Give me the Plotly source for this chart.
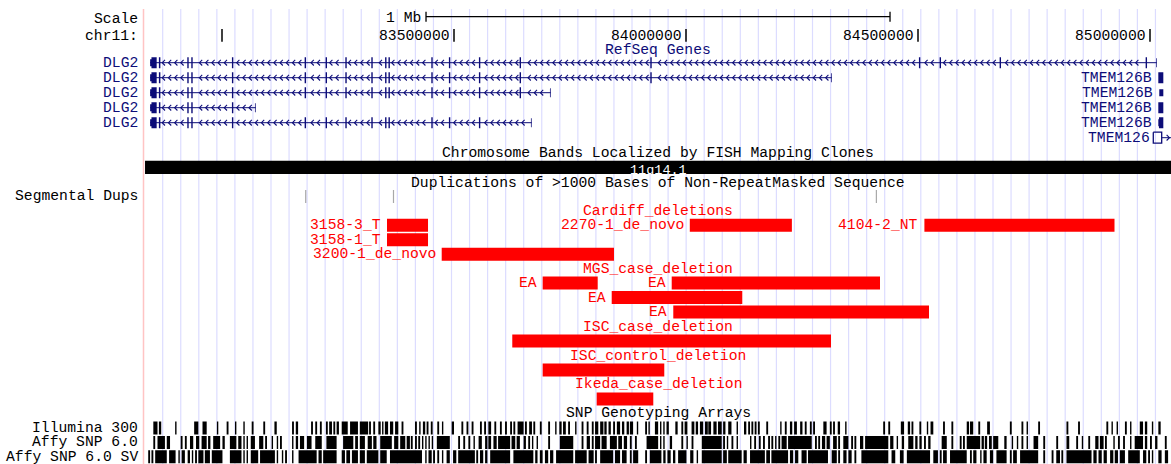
import plotly.graph_objects as go

# ---------------- data: chr11, positions in Mb ----------------
window = [82.8341, 85.0453]
ruler_ticks = [83.0, 83.5, 84.0, 84.5, 85.0]
ruler_labels = ["", "83500000", "84000000", "84500000", "85000000"]
band_label = "11q14.1"

# DLG2 (minus strand) RefSeq transcripts
dlg2_tx_start = 82.8451
dlg2_cds_start = 82.8480
dlg2_tx_end = [85.0145, 84.3140, 83.7084, 83.0726, 83.6674]
dlg2_first_exon_start = [85.0130, 84.3124, 83.7068, 83.0710, 83.6658]
dlg2_exon_count = [20, 16, 15, 5, 14]
dlg2_exon_start = [82.8451, 82.8640, 82.9252, 82.9338, 83.0214, 83.1781, 83.2233,
                   83.2658, 83.3218, 83.3515, 83.3588, 83.4511, 83.4890, 83.5537,
                   83.6414, 83.9231, 84.5020, 84.5466, 84.6759, 84.9906]
dlg2_exon_end = [82.8592, 82.8672, 82.9282, 82.9368, 83.0244, 83.1811, 83.2263,
                 83.2688, 83.3248, 83.3545, 83.3618, 83.4541, 83.4920, 83.5567,
                 83.6444, 83.9261, 84.5050, 84.5496, 84.6789, 84.9936]

# TMEM126B (plus strand) transcripts at the right edge
tmem_exon_start = [85.0179, 85.0200, 85.0179, 85.0179]
tmem_exon_end = [85.0287, 85.0287, 85.0287, 85.0287]
tmem_cds_start = [85.0179, 85.0287, 85.0179, 85.0193]
tmem_nc_start = 85.0071
tmem_nc_exon_end = 85.0252

segdup_pos = [83.1804, 83.3696, 84.4103]

cardiff_names = ["3158-3_T", "3158-1_T", "3200-1_de_novo", "2270-1_de_novo", "4104-2_NT"]
cardiff_start = [83.3556, 83.3556, 83.4735, 84.0082, 84.5138]
cardiff_end = [83.4440, 83.4440, 83.8448, 84.2282, 84.9235]

mgs_names = ["EA", "EA", "EA", "EA"]
mgs_start = [83.6911, 83.8399, 83.9692, 83.9726]
mgs_end = [83.8097, 84.1213, 84.4181, 84.5237]

isc_case_start = [83.6256]
isc_case_end = [84.3125]
isc_ctrl_start = [83.6911]
isc_ctrl_end = [83.9532]
ikeda_start = [83.8075]
ikeda_end = [83.9295]

illumina_start = [82.852, 82.864, 82.899, 82.940, 82.958, 82.989, 83.010, 83.028, 83.046, 83.064,
                  83.089, 83.113, 83.151, 83.159, 83.192, 83.201, 83.211, 83.224, 83.231, 83.240,
                  83.247, 83.258, 83.276, 83.297, 83.317, 83.326, 83.337, 83.345, 83.351, 83.362,
                  83.373, 83.387, 83.416, 83.425, 83.433, 83.441, 83.450, 83.464, 83.474, 83.495,
                  83.516, 83.527, 83.538, 83.556, 83.565, 83.574, 83.587, 83.599, 83.610, 83.621,
                  83.628, 83.637, 83.653, 83.662, 83.671, 83.685, 83.703, 83.718, 83.727, 83.735,
                  83.746, 83.761, 83.775, 83.786, 83.797, 83.804, 83.815, 83.824, 83.833, 83.843,
                  83.851, 83.862, 83.872, 83.879, 83.894, 83.912, 83.919, 83.933, 83.944, 83.951,
                  83.958, 83.977, 83.990, 83.997, 84.012, 84.021, 84.030, 84.041, 84.048, 84.059,
                  84.069, 84.080, 84.091, 84.109, 84.125, 84.134, 84.141, 84.148, 84.155, 84.173,
                  84.203, 84.213, 84.224, 84.233, 84.246, 84.256, 84.267, 84.274, 84.296, 84.310,
                  84.317, 84.327, 84.343, 84.425, 84.436, 84.463, 84.478, 84.486, 84.503, 84.519,
                  84.527, 84.554, 84.572, 84.605, 84.612, 84.630, 84.649, 84.698, 84.723, 84.734,
                  84.759, 84.820, 84.845, 84.906, 84.917, 84.928, 84.946, 84.957, 84.978, 84.989,
                  85.004, 85.018]
illumina_end = [82.861, 82.869, 82.902, 82.949, 82.967, 82.992, 83.014, 83.031, 83.049, 83.068,
                83.093, 83.118, 83.155, 83.164, 83.196, 83.205, 83.215, 83.228, 83.237, 83.244,
                83.252, 83.271, 83.293, 83.315, 83.321, 83.330, 83.342, 83.348, 83.358, 83.369,
                83.380, 83.391, 83.420, 83.428, 83.438, 83.445, 83.454, 83.468, 83.477, 83.500,
                83.520, 83.531, 83.542, 83.560, 83.569, 83.580, 83.591, 83.603, 83.614, 83.625,
                83.632, 83.650, 83.657, 83.668, 83.675, 83.689, 83.707, 83.721, 83.732, 83.741,
                83.750, 83.764, 83.779, 83.790, 83.801, 83.811, 83.822, 83.829, 83.838, 83.847,
                83.858, 83.867, 83.877, 83.886, 83.897, 83.916, 83.922, 83.940, 83.947, 83.954,
                83.963, 83.982, 83.994, 84.003, 84.018, 84.026, 84.037, 84.047, 84.054, 84.066,
                84.077, 84.085, 84.098, 84.112, 84.130, 84.138, 84.145, 84.152, 84.159, 84.177,
                84.206, 84.217, 84.229, 84.239, 84.251, 84.260, 84.271, 84.278, 84.303, 84.314,
                84.321, 84.332, 84.346, 84.429, 84.440, 84.470, 84.483, 84.490, 84.507, 84.522,
                84.533, 84.558, 84.576, 84.610, 84.619, 84.634, 84.655, 84.702, 84.727, 84.737,
                84.763, 84.824, 84.849, 84.910, 84.920, 84.931, 84.950, 84.960, 84.985, 84.994,
                85.007, 85.023]

affy6_start = [82.852, 82.861, 82.881, 82.911, 82.920, 82.931, 82.944, 82.956, 82.970, 82.981,
               83.001, 83.017, 83.035, 83.046, 83.053, 83.062, 83.080, 83.093, 83.107, 83.118,
               83.125, 83.151, 83.159, 83.168, 83.183, 83.201, 83.225, 83.261, 83.287, 83.297,
               83.314, 83.326, 83.341, 83.371, 83.384, 83.398, 83.407, 83.416, 83.423, 83.431,
               83.438, 83.445, 83.452, 83.463, 83.509, 83.520, 83.531, 83.542, 83.553, 83.567,
               83.574, 83.585, 83.595, 83.624, 83.635, 83.650, 83.660, 83.668, 83.678, 83.703,
               83.728, 83.775, 83.786, 83.797, 83.804, 83.818, 83.836, 83.854, 83.866, 83.879,
               83.890, 83.915, 83.944, 83.951, 83.965, 83.990, 84.001, 84.012, 84.034, 84.080,
               84.088, 84.098, 84.109, 84.138, 84.147, 84.157, 84.166, 84.177, 84.184, 84.192,
               84.199, 84.206, 84.220, 84.278, 84.285, 84.293, 84.303, 84.317, 84.328, 84.339,
               84.356, 84.363, 84.375, 84.386, 84.440, 84.454, 84.465, 84.479, 84.494, 84.503,
               84.513, 84.522, 84.551, 84.572, 84.590, 84.597, 84.605, 84.637, 84.644, 84.653,
               84.662, 84.686, 84.702, 84.713, 84.723, 84.734, 84.749, 84.770, 84.798, 84.820,
               84.841, 84.853, 84.867, 84.882, 84.892, 84.903, 84.921, 84.931, 84.942, 84.957,
               84.967, 84.989, 85.000, 85.011, 85.032]
affy6_end = [82.856, 82.877, 82.888, 82.915, 82.924, 82.938, 82.951, 82.967, 82.975, 82.996,
             83.006, 83.031, 83.042, 83.049, 83.056, 83.071, 83.089, 83.097, 83.110, 83.121,
             83.129, 83.154, 83.164, 83.177, 83.193, 83.215, 83.247, 83.283, 83.293, 83.308,
             83.323, 83.333, 83.366, 83.380, 83.395, 83.405, 83.411, 83.420, 83.427, 83.434,
             83.441, 83.448, 83.455, 83.491, 83.513, 83.524, 83.535, 83.545, 83.560, 83.572,
             83.580, 83.592, 83.621, 83.632, 83.642, 83.655, 83.664, 83.671, 83.681, 83.707,
             83.757, 83.779, 83.793, 83.801, 83.815, 83.829, 83.851, 83.862, 83.873, 83.883,
             83.894, 83.940, 83.947, 83.954, 83.970, 83.994, 84.004, 84.016, 84.077, 84.084,
             84.091, 84.102, 84.112, 84.141, 84.151, 84.161, 84.170, 84.181, 84.188, 84.195,
             84.203, 84.217, 84.271, 84.282, 84.289, 84.300, 84.310, 84.325, 84.332, 84.350,
             84.360, 84.367, 84.382, 84.436, 84.447, 84.457, 84.470, 84.490, 84.499, 84.508,
             84.517, 84.527, 84.562, 84.576, 84.594, 84.601, 84.634, 84.642, 84.649, 84.659,
             84.673, 84.691, 84.705, 84.716, 84.727, 84.737, 84.759, 84.774, 84.802, 84.826,
             84.845, 84.856, 84.871, 84.889, 84.900, 84.907, 84.924, 84.935, 84.946, 84.960,
             84.985, 84.994, 85.004, 85.016, 85.036]

affy6sv_start = [82.841, 82.848, 82.856, 82.886, 82.906, 82.913, 82.926, 82.935, 82.942, 82.949,
                 82.963, 82.978, 83.017, 83.046, 83.053, 83.062, 83.082, 83.118, 83.129, 83.136,
                 83.151, 83.165, 83.208, 83.218, 83.258, 83.268, 83.280, 83.297, 83.312, 83.341,
                 83.362, 83.438, 83.445, 83.455, 83.464, 83.474, 83.484, 83.498, 83.509, 83.548,
                 83.556, 83.567, 83.578, 83.628, 83.675, 83.685, 83.696, 83.707, 83.720, 83.761,
                 83.790, 83.804, 83.815, 83.847, 83.862, 83.879, 83.886, 83.912, 83.922, 83.951,
                 83.960, 83.972, 83.983, 84.009, 84.023, 84.034, 84.080, 84.091, 84.124, 84.138,
                 84.173, 84.184, 84.224, 84.235, 84.249, 84.263, 84.314, 84.328, 84.339, 84.350,
                 84.363, 84.378, 84.443, 84.461, 84.476, 84.533, 84.547, 84.554, 84.569, 84.612,
                 84.619, 84.634, 84.641, 84.655, 84.669, 84.698, 84.705, 84.720, 84.770, 84.788,
                 84.798, 84.809, 84.820, 84.878, 84.889, 84.900, 84.914, 84.924, 84.935, 84.953,
                 84.985, 84.996, 85.004, 85.018, 85.032]
affy6sv_end = [82.845, 82.852, 82.881, 82.900, 82.909, 82.920, 82.931, 82.938, 82.946, 82.960,
               82.974, 83.001, 83.042, 83.049, 83.056, 83.078, 83.114, 83.121, 83.132, 83.140,
               83.154, 83.204, 83.215, 83.247, 83.265, 83.276, 83.293, 83.308, 83.337, 83.355,
               83.431, 83.441, 83.452, 83.459, 83.468, 83.477, 83.491, 83.505, 83.545, 83.552,
               83.563, 83.572, 83.621, 83.671, 83.680, 83.691, 83.703, 83.714, 83.757, 83.786,
               83.801, 83.808, 83.843, 83.858, 83.872, 83.883, 83.897, 83.916, 83.947, 83.956,
               83.967, 83.977, 84.001, 84.016, 84.026, 84.077, 84.088, 84.120, 84.131, 84.170,
               84.181, 84.220, 84.231, 84.242, 84.260, 84.306, 84.325, 84.332, 84.346, 84.357,
               84.367, 84.436, 84.451, 84.469, 84.526, 84.543, 84.551, 84.562, 84.605, 84.616,
               84.626, 84.637, 84.648, 84.662, 84.691, 84.702, 84.713, 84.759, 84.774, 84.792,
               84.806, 84.813, 84.874, 84.885, 84.896, 84.907, 84.921, 84.931, 84.946, 84.978,
               84.992, 85.000, 85.007, 85.025, 85.039]

# ---------------- drawing setup ----------------
W, H = 1171, 464
PX_PER_MB = 464.0
X_LEFT = 83.5 - 454 / PX_PER_MB
X_RIGHT = X_LEFT + W / PX_PER_MB
PX = 1.0 / PX_PER_MB
FONT = "Liberation Mono"
FS = 14.7
CHAR_W = 8.85
NAVY = "#0c0c78"
RED = "#ff0000"
GUIDE = "#dcdcff"
LABEL_RIGHT = 140 / W
mid = (window[0] + window[1]) / 2

traces, shapes, ann = [], [], []


def text(s, x, y, color="black", anchor="center", xref="x", xshift=0, size=FS):
    ann.append(dict(text=s, x=x, y=y, xref=xref, yref="y", xanchor=anchor,
                    yanchor="middle", showarrow=False, xshift=xshift,
                    font=dict(family=FONT, size=size, color=color)))


def add_rect(xs, ys, x0, x1, y0, y1):
    xs += [x0, x1, x1, x0, x0, None]
    ys += [y0, y0, y1, y1, y0, None]


def fill_trace(xs, ys, color):
    traces.append(go.Scatter(x=xs, y=ys, mode="lines", fill="toself", fillcolor=color,
                             line=dict(width=0, color=color), hoverinfo="skip",
                             showlegend=False))


def line_trace(xs, ys, color, width=1.0):
    traces.append(go.Scatter(x=xs, y=ys, mode="lines", line=dict(width=width, color=color),
                             hoverinfo="skip", showlegend=False, connectgaps=False))


# guide lines
shapes.append(dict(type="line", xref="paper", yref="y", x0=143.5 / W, x1=143.5 / W,
                   y0=9, y1=H, line=dict(color="#ffc4c4", width=1.5), layer="below"))
gx = 162.7
while gx < W:
    shapes.append(dict(type="line", xref="paper", yref="y", x0=gx / W, x1=gx / W,
                       y0=9, y1=H, line=dict(color=GUIDE, width=1.2), layer="below"))
    gx += 18.05

# ---------------- ruler ----------------
text("Scale", LABEL_RIGHT, 19, anchor="right", xref="paper")
text("chr11:", LABEL_RIGHT, 36, anchor="right", xref="paper")
sx0, sx1 = mid - 0.5, mid + 0.5
line_trace([sx0, sx1, None, sx0, sx0, None, sx1, sx1],
           [16.7, 16.7, None, 11.7, 21.7, None, 11.7, 21.7], "black", 1.3)
text("1 Mb", sx0, 18, anchor="right", xshift=-3)
tx, ty = [], []
for t, lab in zip(ruler_ticks, ruler_labels):
    tx += [t, t, None]
    ty += [29, 41.7, None]
    if lab:
        text(lab, t, 35.5, anchor="right", xshift=-2)
line_trace(tx, ty, "black", 1.5)

# ---------------- genes ----------------
text("RefSeq Genes", mid, 50, color=NAVY)
gene_y = [62.7 + 15 * i for i in range(6)]
FULL, HALF = 5.5, 3.5
CHEV = 6.2 * PX

ex_x, ex_y, in_x, in_y, ch_x, ch_y = [], [], [], [], [], []


def chevrons(a, b, y, direction):
    k = int((a - window[0]) / CHEV) + 1
    while True:
        c = window[0] + k * CHEV
        if c > b - 2.5 * PX:
            break
        if c >= a + 2.5 * PX:
            ch_x.extend([c + direction * 1.4 * PX, c - direction * 1.4 * PX,
                         c + direction * 1.4 * PX, None])
            ch_y.extend([y - 2.8, y, y + 2.8, None])
        k += 1


for i in range(5):
    y = gene_y[i]
    text("DLG2", LABEL_RIGHT, y, color=NAVY, anchor="right", xref="paper")
    in_x += [dlg2_tx_start, dlg2_tx_end[i], None]
    in_y += [y, y, None]
    exons = []
    for j in range(dlg2_exon_count[i]):
        s, e = dlg2_exon_start[j], dlg2_exon_end[j]
        exons.append((s, e))
        if s < dlg2_cds_start:
            add_rect(ex_x, ex_y, s, dlg2_cds_start, y - HALF, y + HALF)
            add_rect(ex_x, ex_y, dlg2_cds_start, e, y - FULL, y + FULL)
        else:
            add_rect(ex_x, ex_y, s, e, y - FULL, y + FULL)
    exons.append((dlg2_first_exon_start[i], dlg2_tx_end[i]))
    add_rect(ex_x, ex_y, dlg2_first_exon_start[i], dlg2_tx_end[i], y - HALF - 1, y + HALF + 1)
    for (s0, e0), (s1, e1) in zip(exons[:-1], exons[1:]):
        chevrons(e0, s1, y, +1)

for i in range(4):
    y = gene_y[i + 1]
    s, e, c = tmem_exon_start[i], tmem_exon_end[i], tmem_cds_start[i]
    text("TMEM126B", s, y, color=NAVY, anchor="right", xshift=-4)
    if c > s:
        add_rect(ex_x, ex_y, s, min(c, e), y - HALF, y + HALF)
    if c < e:
        add_rect(ex_x, ex_y, c, e, y - FULL, y + FULL)

y = gene_y[5]
text("TMEM126", tmem_nc_start, y, color=NAVY, anchor="right", xshift=-1)
in_x += [tmem_nc_exon_end, window[1], None]
in_y += [y, y, None]
line_trace([tmem_nc_start, tmem_nc_exon_end, tmem_nc_exon_end, tmem_nc_start, tmem_nc_start],
           [y - FULL, y - FULL, y + FULL, y + FULL, y - FULL], NAVY, 1.3)
chevrons(tmem_nc_start, tmem_nc_exon_end, y, -1)
chevrons(tmem_nc_exon_end, window[1], y, -1)

line_trace(in_x, in_y, NAVY, 1.0)
line_trace(ch_x, ch_y, NAVY, 1.1)
fill_trace(ex_x, ex_y, NAVY)

# ---------------- chromosome band ----------------
text("Chromosome Bands Localized by FISH Mapping Clones", mid, 152.5)
bx, by = [], []
add_rect(bx, by, window[0], window[1], 160.7, 174)
fill_trace(bx, by, "black")
text(band_label, mid, 170.0, color="white", size=13.5)

# ---------------- segmental dups ----------------
text("Duplications of >1000 Bases of Non-RepeatMasked Sequence", mid, 182.9)
text("Segmental Dups", LABEL_RIGHT, 196, anchor="right", xref="paper")
sdx, sdy = [], []
for p in segdup_pos:
    sdx += [p, p, None]
    sdy += [190, 203, None]
line_trace(sdx, sdy, "#a8a8a8", 1.2)


# ---------------- deletion tracks ----------------
def pack(starts, ends, names):
    order = sorted(range(len(starts)), key=lambda k: starts[k])
    rows, row_end = [0] * len(starts), []
    for k in order:
        left = starts[k]
        if names[k]:
            left -= (len(names[k]) * CHAR_W + 6) * PX
        for r, e in enumerate(row_end):
            if left > e + 2 * PX:
                rows[k] = r
                row_end[r] = ends[k]
                break
        else:
            rows[k] = len(row_end)
            row_end.append(ends[k])
    return rows, len(row_end)


groups = [
    ("Cardiff_deletions", cardiff_names, cardiff_start, cardiff_end),
    ("MGS_case_deletion", mgs_names, mgs_start, mgs_end),
    ("ISC_case_deletion", [""], isc_case_start, isc_case_end),
    ("ISC_control_deletion", [""], isc_ctrl_start, isc_ctrl_end),
    ("Ikeda_case_deletion", [""], ikeda_start, ikeda_end),
]
PITCH = 14.48
cur = 210.7
dx, dy = [], []
for title, names, starts, ends in groups:
    text(title, mid, cur, color=RED)
    cur += PITCH
    rows, nrows = pack(starts, ends, names)
    for k in range(len(starts)):
        yc = cur + rows[k] * PITCH
        add_rect(dx, dy, starts[k], ends[k], yc - 6.5, yc + 6.5)
        if names[k]:
            text(names[k], starts[k], yc, color=RED, anchor="right", xshift=-4)
    cur += nrows * PITCH
fill_trace(dx, dy, RED)

# ---------------- SNP arrays ----------------
text("SNP Genotyping Arrays", mid, cur)
cur += PITCH
for name, starts, ends in [("Illumina 300", illumina_start, illumina_end),
                           ("Affy SNP 6.0", affy6_start, affy6_end),
                           ("Affy SNP 6.0 SV", affy6sv_start, affy6sv_end)]:
    text(name, LABEL_RIGHT, cur, anchor="right", xref="paper")
    sx, sy = [], []
    for s, e in zip(starts, ends):
        add_rect(sx, sy, s, e, cur - 6.5, cur + 6.5)
    fill_trace(sx, sy, "black")
    cur += PITCH

fig = go.Figure(traces)
fig.update_layout(
    width=W, height=H, margin=dict(l=0, r=0, t=0, b=0),
    paper_bgcolor="white", plot_bgcolor="white",
    xaxis=dict(range=[X_LEFT, X_RIGHT], visible=False, fixedrange=True),
    yaxis=dict(range=[H, 0], visible=False, fixedrange=True),
    shapes=shapes, annotations=ann, showlegend=False,
)
fig.write_html("out.html", config={"displayModeBar": False})
